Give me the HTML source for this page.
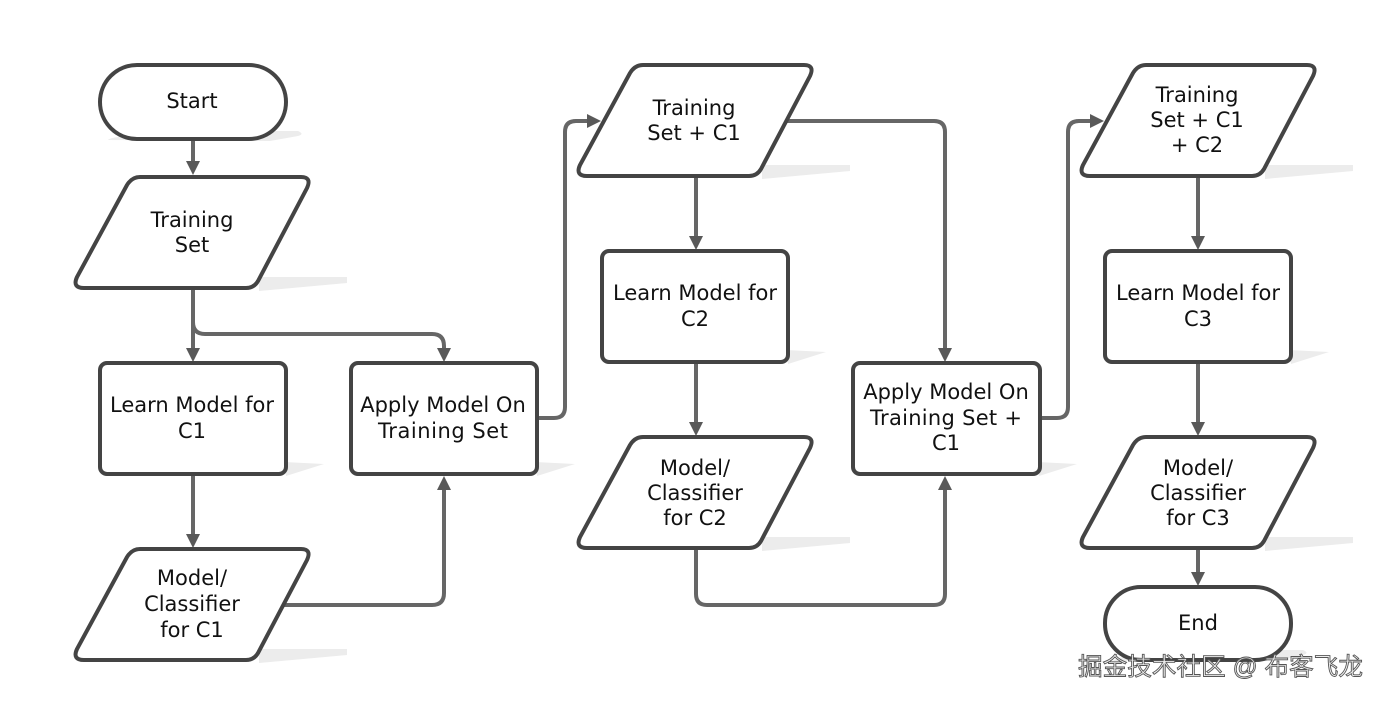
<!DOCTYPE html>
<html><head><meta charset="utf-8"><style>
html,body{margin:0;padding:0;background:#fff;width:1384px;height:701px;overflow:hidden}
svg{display:block}
text{font-family:"DejaVu Sans",sans-serif;font-size:21px;fill:#111;text-anchor:middle}
.b{fill:#fff;stroke:#444;stroke-width:4}
.c{fill:none;stroke:#666;stroke-width:4}
.a{fill:#595959}
.s{fill:#ececec}
text.w{font-family:"Liberation Sans","Noto Sans CJK SC",sans-serif;font-size:24.6px;fill:#eee;stroke:#555;stroke-width:.9px;text-anchor:start}
</style></head><body>
<svg width="1384" height="701" viewBox="0 0 1384 701" xmlns="http://www.w3.org/2000/svg">
<defs>
<path id="p" d="M65 0H226Q237 0 232 11L183 104Q179 111 171 111H9Q-3 111 2 100L52 8Q57 0 65 0Z" class="b"/>
<path id="ps" d="M184 100H272V106L184 114Z" class="s"/>
<path id="rs" d="M184 99L224 101L186 113Z" class="s"/>
</defs>
<!-- shadows -->
<path d="M108 140Q112 133 260 131H298Q305 134 298 136L270 141Z" class="s"/>
<use href="#ps" x="75" y="177"/><use href="#ps" x="75" y="549"/><use href="#ps" x="578" y="65"/><use href="#ps" x="578" y="437"/><use href="#ps" x="1081" y="65"/><use href="#ps" x="1081" y="437"/>
<use href="#rs" x="100" y="363"/><use href="#rs" x="351" y="363"/><use href="#rs" x="602" y="251"/><use href="#rs" x="853" y="363"/><use href="#rs" x="1105" y="251"/>
<path d="M1113 661Q1117 652 1265 650H1303Q1310 653 1303 655L1275 661Z" class="s"/>
<!-- connectors -->
<path class="c" d="M193 139V165M193 288V350M193 322Q193 334 205 334H432Q444 334 444 346V350M193 474V536M280 605H432Q444 605 444 593V488M537 418H554Q565 418 565 407V132Q565 121 576 121H590M782 121H934Q945 121 945 132V350M696 176V238M696 362V424M696 548V594Q696 605 707 605H934Q945 605 945 594V488M1040 418H1057Q1068 418 1068 407V132Q1068 121 1079 121H1093M1198 176V238M1198 362V424M1198 548V574"/>
<!-- arrowheads -->
<path class="a" d="M186 161H200L193 175ZM186 348H200L193 362ZM437 348H451L444 362ZM186 534H200L193 548ZM437 490H451L444 476ZM587 114V128L601 121ZM689 236H703L696 250ZM689 422H703L696 436ZM938 348H952L945 362ZM938 490H952L945 476ZM1090 114V128L1104 121ZM1191 236H1205L1198 250ZM1191 422H1205L1198 436ZM1191 572H1205L1198 586Z"/>
<!-- nodes -->
<rect class="b" x="100" y="65" width="186" height="74" rx="37"/>
<use href="#p" x="75" y="177"/>
<rect class="b" x="100" y="363" width="186" height="111" rx="7"/>
<rect class="b" x="351" y="363" width="186" height="111" rx="7"/>
<use href="#p" x="75" y="549"/>
<use href="#p" x="578" y="65"/>
<rect class="b" x="602" y="251" width="186" height="111" rx="7"/>
<use href="#p" x="578" y="437"/>
<rect class="b" x="853" y="363" width="187" height="111" rx="7"/>
<use href="#p" x="1081" y="65"/>
<rect class="b" x="1105" y="251" width="186" height="111" rx="7"/>
<use href="#p" x="1081" y="437"/>
<rect class="b" x="1105" y="587" width="186" height="73" rx="36"/>
<!-- labels -->
<text x="192" y="108">Start</text>
<text x="192" y="227">Training</text><text x="192" y="252">Set</text>
<text x="192" y="412">Learn Model for</text><text x="192" y="438">C1</text>
<text x="443" y="412">Apply Model On</text><text x="443" y="438" textLength="130">Training Set</text>
<text x="192" y="585">Model/</text><text x="192" y="611">Classifier</text><text x="192" y="637">for C1</text>
<text x="694" y="115">Training</text><text x="694" y="140">Set + C1</text>
<text x="695" y="300">Learn Model for</text><text x="695" y="326">C2</text>
<text x="695" y="475">Model/</text><text x="695" y="500">Classifier</text><text x="695" y="525">for C2</text>
<text x="946" y="399">Apply Model On</text><text x="946" y="425" textLength="152">Training Set +</text><text x="946" y="450">C1</text>
<text x="1197" y="102">Training</text><text x="1197" y="127">Set + C1</text><text x="1197" y="152">+ C2</text>
<text x="1198" y="300">Learn Model for</text><text x="1198" y="326">C3</text>
<text x="1198" y="475">Model/</text><text x="1198" y="500">Classifier</text><text x="1198" y="525">for C3</text>
<text x="1198" y="630">End</text>
<text class="w" x="1078" y="675" textLength="285">掘金技术社区 @ 布客飞龙</text>
</svg>
</body></html>
